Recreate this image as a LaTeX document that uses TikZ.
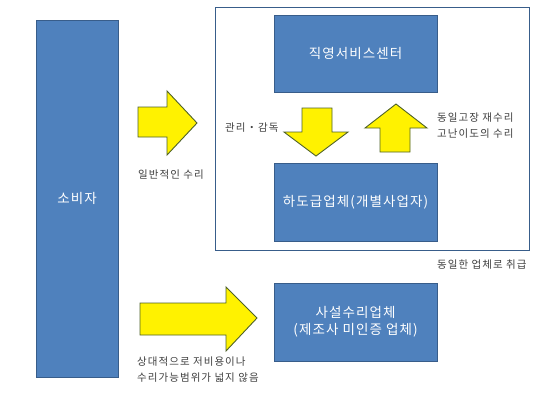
\documentclass[tikz,border=0pt]{standalone}
\usepackage{fontspec}
\setmainfont{Noto Sans CJK KR}
\newfontfamily\lblfont[LetterSpace=10]{Noto Sans CJK KR}
\newfontfamily\boxfont[LetterSpace=8]{Noto Sans CJK KR}
\begin{document}
\begin{tikzpicture}[x=1pt,y=-1pt,
  bluebox/.style={draw=boxborder,line width=1pt,fill=boxblue,text=white,font=\boxfont\fontsize{13.5}{17}\selectfont,align=center,inner sep=0pt},
  yarrow/.style={draw=arrowborder,line width=0.9pt,fill=yellow,line join=miter},
  lbl/.style={text=black!75,font=\lblfont\fontsize{10.5}{16}\selectfont,align=left,inner sep=0pt}]
\definecolor{boxblue}{HTML}{4F81BD}
\definecolor{boxborder}{HTML}{385D8A}
\definecolor{arrowborder}{HTML}{4F6228}
\definecolor{frameborder}{HTML}{385D8A}
\useasboundingbox (0,0) rectangle (540,405);
\fill[white] (0,0) rectangle (540,405);
% frame
\draw[frameborder,line width=1pt] (215,7) rectangle (529,250);
% boxes
\node[bluebox,minimum width=82pt,minimum height=357pt] (consumer) at (77,198.5) {소비자};
\node[bluebox,minimum width=163pt,minimum height=77pt] (direct) at (355.5,53.5) {직영서비스센터};
\node[bluebox,minimum width=163pt,minimum height=78pt] (sub) at (355.5,202) {하도급업체(개별사업자)};
\node[bluebox,minimum width=163pt,minimum height=78pt] (private) at (355.5,322) {사설수리업체\\(제조사 미인증 업체)};
% arrows
\draw[yarrow] (138,107) -- (167,107) -- (167,91) -- (197,123) -- (167,155) -- (167,137) -- (138,137) -- cycle;
\draw[yarrow] (302,108) -- (332,108) -- (332,132) -- (348,132) -- (316,156) -- (284,132) -- (302,132) -- cycle;
\draw[yarrow] (380,152) -- (410,152) -- (410,128) -- (427,128) -- (396,104) -- (365,128) -- (380,128) -- cycle;
\draw[yarrow] (140,303) -- (226,303) -- (226,287) -- (257,318) -- (226,351) -- (226,335) -- (140,335) -- cycle;
% labels
\node[lbl,anchor=west] (l1) at (138,175) {일반적인 수리};
\node[lbl,anchor=west] (l2) at (225,128) {관리・감독};
\node[lbl,anchor=west] (l3) at (437,126) {동일고장 재수리\\고난이도의 수리};
\node[lbl,anchor=west] (l4) at (437,265) {동일한 업체로 취급};
\node[lbl,anchor=west] (l5) at (137,370) {상대적으로 저비용이나\\수리가능범위가 넓지 않음};
\end{tikzpicture}
\end{document}
